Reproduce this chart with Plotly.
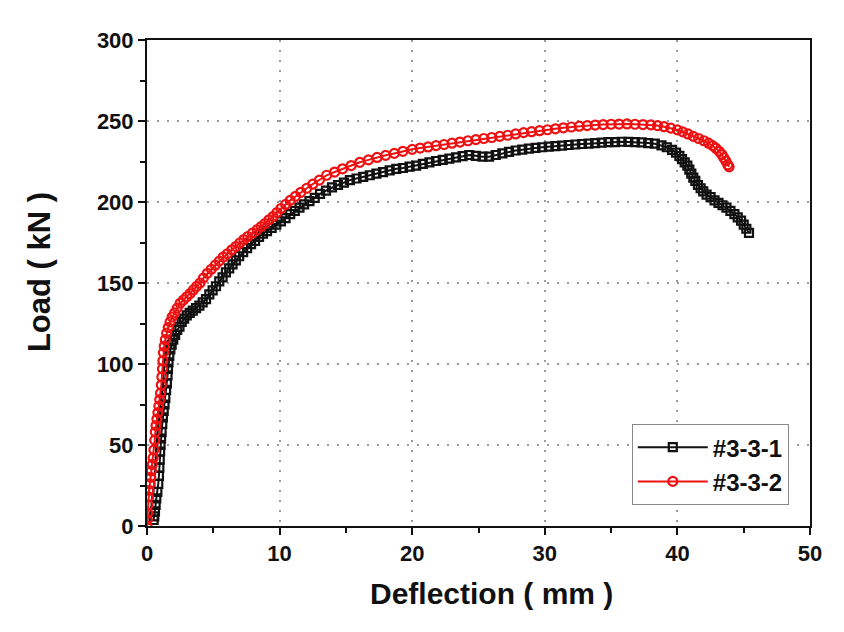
import plotly.graph_objects as go

# Series #3-3-1 (black squares)
defl_1 = [0.50, 0.55, 0.60, 0.65, 0.70, 0.78, 0.85, 0.90, 0.93, 0.96, 0.99, 1.02, 1.06, 1.10, 1.15, 1.20,
          1.26, 1.32, 1.38, 1.44, 1.50, 1.55, 1.58, 1.62, 1.68, 1.76, 1.86, 1.98, 2.12, 2.28, 2.45, 2.62,
          2.80, 3.00, 3.22, 3.45, 3.70, 3.95, 4.20, 4.45, 4.70, 4.95, 5.20, 5.45, 5.70, 5.95, 6.20, 6.45,
          6.70, 6.95, 7.25, 7.55, 7.85, 8.15, 8.45, 8.75, 9.05, 9.40, 9.75, 10.10, 10.45, 10.80, 11.15,
          11.50, 11.85, 12.25, 12.65, 13.05, 13.50, 13.95, 14.40, 14.85, 15.30, 15.80, 16.30, 16.80, 17.30,
          17.80, 18.30, 18.80, 19.30, 19.80, 20.30, 20.80, 21.30, 21.80, 22.30, 22.80, 23.30, 23.80, 24.30,
          24.80, 25.30, 25.80, 26.30, 26.80, 27.30, 27.80, 28.30, 28.80, 29.30, 29.80, 30.30, 30.80, 31.30,
          31.80, 32.30, 32.80, 33.30, 33.80, 34.30, 34.80, 35.30, 35.80, 36.30, 36.80, 37.30, 37.80, 38.30,
          38.80, 39.20, 39.60, 39.90, 40.15, 40.35, 40.55, 40.75, 40.90, 41.05, 41.20, 41.35, 41.55, 41.75,
          41.95, 42.20, 42.50, 42.80, 43.10, 43.40, 43.70, 44.00, 44.30, 44.55, 44.80, 45.00, 45.20, 45.40]
load_1 = [3.7, 6, 9, 13, 17, 21, 26, 31, 36, 41, 46, 50, 54, 58, 63, 67,
          71, 75, 79, 84, 88, 93, 97, 101, 105, 109, 112, 115, 118, 121, 123, 126,
          128, 130, 131.5, 133, 134.5, 136, 138, 140, 143, 145.5, 148, 151, 153.5, 156.5, 159, 161.5,
          164, 166.5, 169, 171.5, 174, 176, 178.5, 180.5, 182, 184, 186, 188, 190, 192.5, 194.5,
          196.5, 198.5, 200.5, 202.5, 205, 207, 209, 210.5, 212, 213.5, 214.5, 215.5, 216.5, 217.5,
          218.5, 219.5, 220.5, 221, 221.8, 222.5, 223.5, 224.5, 225.3, 226, 226.8, 227.5, 228.3, 229,
          228.5, 228, 228, 229, 230, 231, 231.8, 232.3, 233, 233.4, 233.8, 234.2, 234.5, 234.8,
          235.2, 235.5, 235.8, 236, 236.3, 236.6, 236.9, 237, 237.2, 237.1, 237, 236.8, 236.4, 236,
          235, 233.8, 232.2, 230.5, 228.5, 226.5, 224.5, 222.5, 220, 217.5, 215, 213, 210.5, 208.5,
          206.5, 204.5, 203, 201, 199.5, 198, 196.5, 194.5, 192.5, 190.5, 188.5, 186, 183.5, 181]

# Series #3-3-2 (red circles)
defl_2 = [0.00, 0.02, 0.05, 0.08, 0.12, 0.16, 0.22, 0.28, 0.33, 0.40, 0.46, 0.52, 0.58, 0.63, 0.68, 0.75,
          0.82, 0.89, 0.96, 1.02, 1.08, 1.12, 1.16, 1.20, 1.24, 1.30, 1.38, 1.48, 1.60, 1.74, 1.90, 2.08,
          2.28, 2.50, 2.75, 3.00, 3.25, 3.50, 3.75, 4.00, 4.25, 4.55, 4.85, 5.15, 5.45, 5.75, 6.05, 6.40,
          6.70, 7.00, 7.30, 7.60, 7.95, 8.30, 8.60, 8.90, 9.20, 9.50, 9.80, 10.10, 10.45, 10.80, 11.20,
          11.60, 12.05, 12.50, 13.00, 13.55, 14.15, 14.75, 15.40, 16.05, 16.70, 17.35, 18.00, 18.65, 19.30,
          20.00, 20.60, 21.20, 21.80, 22.40, 23.00, 23.60, 24.20, 24.80, 25.40, 26.00, 26.60, 27.20, 27.80,
          28.40, 29.00, 29.60, 30.20, 30.80, 31.40, 32.00, 32.60, 33.20, 33.80, 34.40, 35.00, 35.60, 36.20,
          36.80, 37.40, 38.00, 38.50, 39.00, 39.50, 40.00, 40.40, 40.80, 41.20, 41.60, 42.00, 42.35, 42.65,
          42.90, 43.15, 43.35, 43.50, 43.65, 43.80, 43.90]
load_2 = [0, 4, 8, 13, 18, 22, 26, 30, 34, 38, 42, 47, 53, 58, 62, 66,
          70, 74, 78, 82, 87, 92, 97, 102, 107, 111, 115, 119, 122.5, 126, 129, 131.5,
          134.5, 137.5, 139.5, 141.5, 143.5, 145.7, 148, 150, 153, 156, 158.5, 161, 163.5, 166, 168, 170.5,
          172.5, 174.7, 176.8, 178.7, 180.8, 182.8, 184.8, 186.7, 189, 191, 193.5, 196, 198.5, 201, 203.5,
          206, 208.5, 211, 213.5, 216.5, 218.5, 220.5, 222.5, 224.5, 226, 227.5, 228.8, 230, 231.3,
          232.5, 233.3, 234, 234.8, 235.5, 236.3, 237, 237.8, 238.5, 239.2, 239.8, 240.5, 241.2, 242,
          242.8, 243.4, 244, 244.6, 245.2, 245.8, 246.3, 246.8, 247.2, 247.5, 247.8, 248, 248.1, 248.2,
          248, 247.8, 247.6, 247.2, 246.5, 245.6, 244.5, 243.3, 242, 240.5, 239.2, 237.8, 236.3, 234.8,
          233.2, 231.3, 229.3, 227.3, 225.3, 223, 221.7]

series_names = ["#3-3-1", "#3-3-2"]
x_ticks = [0, 10, 20, 30, 40, 50]
y_ticks = [0, 50, 100, 150, 200, 250, 300]
x_title = "Deflection ( mm )"
y_title = "Load ( kN )"

FONT = "Liberation Sans, Arial, sans-serif"
BLACK = "#111111"
RED = "#ee1111"

fig = go.Figure()
fig.add_trace(go.Scatter(
    x=defl_1, y=load_1, name=series_names[0], mode="lines+markers",
    line=dict(color=BLACK, width=2),
    marker=dict(symbol="square-open", size=8, color=BLACK, line=dict(width=2.2, color=BLACK)),
))
fig.add_trace(go.Scatter(
    x=defl_2, y=load_2, name=series_names[1], mode="lines+markers",
    line=dict(color=RED, width=2),
    marker=dict(symbol="circle-open", size=9, color=RED, line=dict(width=2.2, color=RED)),
))

axis_common = dict(
    showline=True, linecolor=BLACK, linewidth=2, mirror=True,
    ticks="outside", ticklen=7, tickwidth=2, tickcolor=BLACK,
    showgrid=True, gridcolor="#9a9a9a", gridwidth=1.5, griddash="2px,8px",
    zeroline=False, automargin=False,
    tickfont=dict(family=FONT, size=22, color=BLACK, weight="bold"),
)

fig.update_xaxes(
    range=[0, 50], tickvals=x_ticks, ticktext=[str(v) for v in x_ticks],
    minor=dict(dtick=5, ticks="outside", ticklen=5, tickwidth=2, tickcolor=BLACK, showgrid=False),
    **axis_common,
)
fig.update_yaxes(
    range=[0, 300], tickvals=y_ticks, ticktext=[str(v) for v in y_ticks],
    minor=dict(dtick=25, ticks="outside", ticklen=5, tickwidth=2, tickcolor=BLACK, showgrid=False),
    **axis_common,
)

fig.add_annotation(
    text=x_title, xref="paper", yref="paper", x=0.519, y=-0.138,
    xanchor="center", yanchor="middle", showarrow=False,
    font=dict(family=FONT, size=30, color=BLACK, weight="bold"),
)
fig.add_annotation(
    text=y_title, xref="paper", yref="paper", x=-0.161, y=0.523, textangle=-90,
    xanchor="center", yanchor="middle", showarrow=False,
    font=dict(family=FONT, size=31, color=BLACK, weight="bold"),
)

fig.update_layout(
    width=844, height=632,
    margin=dict(l=139, r=42, t=32, b=114),
    paper_bgcolor="white", plot_bgcolor="white",
    showlegend=True,
    legend=dict(
        x=0.968, y=0.043, xanchor="right", yanchor="bottom",
        bgcolor="white", bordercolor="#888888", borderwidth=1,
        font=dict(family=FONT, size=24, color=BLACK, weight="bold"),
        itemwidth=70, tracegroupgap=0,
    ),
)

fig.write_html("out.html")
